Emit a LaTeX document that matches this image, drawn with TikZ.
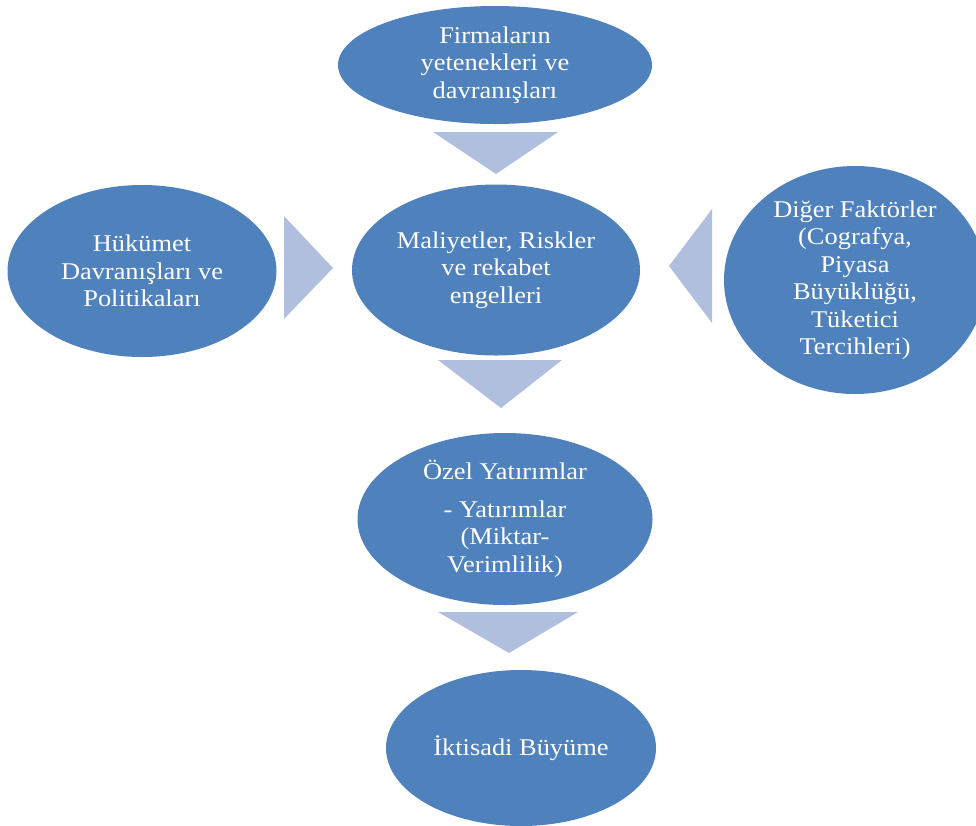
\documentclass[tikz,border=0pt]{standalone}
\usepackage{fontspec}
\setmainfont{Liberation Serif}[FakeStretch=1.1]
\usetikzlibrary{shapes.geometric}
\definecolor{ellblue}{HTML}{4F81BD}
\definecolor{triblue}{HTML}{AFBFDD}
\tikzset{
  ell/.style={ellipse, fill=ellblue, draw=none, inner sep=0pt, text=white, align=center,
    font=\fontsize{24}{27.5}\selectfont},
  arrowtri/.style={fill=triblue, draw=none}
}
\begin{document}
\begin{tikzpicture}[x=1pt,y=-1pt]
\useasboundingbox (0,0) rectangle (976,825);
\begin{scope}
\clip (0,0) rectangle (976,825);
\node[ell, minimum width=314pt, minimum height=118pt] (firm) at (495,65) {Firmaların\\yetenekleri ve\\davranışları};
\node[ell, minimum width=288pt, minimum height=171pt] (cost) at (496,270) {Maliyetler, Riskler\\ve rekabet\\engelleri};
\node[ell, minimum width=269pt, minimum height=172pt] (gov) at (142,271) {Hükümet\\Davranışları ve\\Politikaları};
\node[ell, minimum width=262pt, minimum height=228pt] (other) at (855,280) {Diğer Faktörler\\(Cografya,\\Piyasa\\Büyüklüğü,\\Tüketici\\Tercihleri)};
\node[ell, minimum width=295pt, minimum height=172pt] (ozel) at (505,519) {Özel Yatırımlar\\[10pt]- Yatırımlar\\(Miktar-\\Verimlilik)};
\node[ell, minimum width=270pt, minimum height=156pt] (growth) at (521,748) {İktisadi Büyüme};
\end{scope}
\fill[arrowtri] (433,132) -- (558,132) -- (496,174) -- cycle;
\fill[arrowtri] (284,216) -- (284,319) -- (333,268) -- cycle;
\fill[arrowtri] (712,209) -- (712,323) -- (669,266) -- cycle;
\fill[arrowtri] (438,360) -- (562,360) -- (501,408) -- cycle;
\fill[arrowtri] (438,612) -- (578,612) -- (509,653) -- cycle;
\end{tikzpicture}
\end{document}
